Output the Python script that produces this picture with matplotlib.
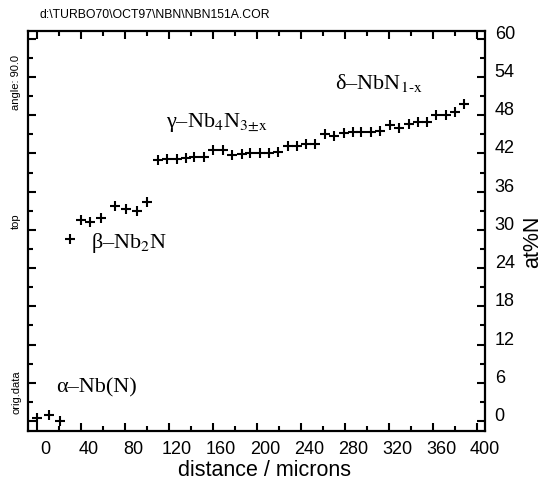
import matplotlib
matplotlib.use('Agg')
import matplotlib.pyplot as plt
from matplotlib.transforms import ScaledTranslation
from matplotlib.ticker import MultipleLocator

plt.rcParams['font.family'] = ['Liberation Sans', 'DejaVu Sans']
plt.rcParams['mathtext.fontset'] = 'stix'

# datos (distancia en micras, at%N)
alpha_x = [0, 11, 21]
alpha_y = [0.5, 1.0, 0.0]

beta_x = [30, 40, 48, 58, 71, 81, 91, 100]
beta_y = [28.5, 31.5, 31.2, 31.8, 33.8, 33.3, 32.9, 34.4]

gd_x = [110, 118, 127, 135, 143, 152, 160, 169, 177, 186, 194, 203,
        211, 219, 228, 236, 245, 253, 262, 270, 279, 287, 295, 304,
        312, 321, 329, 338, 346, 355, 363, 372, 380, 388]
gd_y = [40.9, 41.1, 41.1, 41.3, 41.4, 41.4, 42.5, 42.5, 41.8, 41.9, 42.0, 42.0,
        42.0, 42.3, 43.1, 43.1, 43.5, 43.5, 45.1, 44.7, 45.2, 45.4, 45.4, 45.4,
        45.5, 46.5, 46.0, 46.6, 46.9, 47.0, 48.0, 48.0, 48.5, 49.8]

x_ticks = [0, 40, 80, 120, 160, 200, 240, 280, 320, 360, 400]
y_ticks = [0, 6, 12, 18, 24, 30, 36, 42, 48, 54, 60]

serif = ['Liberation Serif', 'DejaVu Serif']

fig = plt.figure(figsize=(5.44, 4.87), dpi=100)
ax = fig.add_axes([28/544, 1 - 431/487, 457/544, 400/487])

xs = alpha_x + beta_x + gd_x
ys = alpha_y + beta_y + gd_y
ax.plot(xs, ys, linestyle='none', marker='+', color='black', ms=7, mew=1.5)

ax.set_xlim(-8.2, 407.3)
ax.set_ylim(-1.57, 61.22)
ax.set_xticks(x_ticks)
ax.set_yticks(y_ticks)
ax.xaxis.set_minor_locator(MultipleLocator(20))
ax.yaxis.set_minor_locator(MultipleLocator(3))
ax.tick_params(which='both', direction='in', top=True, bottom=True, left=True, right=True,
               labelleft=False, labelright=True, width=1.5, colors='black')
ax.tick_params(which='major', length=6, labelsize=13, pad=7)
ax.tick_params(which='minor', length=3.3)
for s in ax.spines.values():
    s.set_linewidth(1.6)

ax.set_xlabel('distance / microns', fontsize=15.5)
ax.xaxis.set_label_coords(0.5175, -0.072)
ax.yaxis.set_label_position('right')
ax.set_ylabel('at%N', fontsize=15.5, rotation=90)
ax.yaxis.set_label_coords(1.081, 0.4725)

# etiquetas de fases
ax.text(17.3, 4.4, 'α–Nb(N)', fontsize=16, family=serif, va='baseline')
ax.text(49, 27.2, 'β–Nb$_2$N', fontsize=16, family=serif, va='baseline')
ax.text(117.7, 46.2, 'γ–Nb$_4$N$_{\\text{3±x}}$', fontsize=16, family=serif, va='baseline')
ax.text(271, 52.1, 'δ–NbN$_{\\text{1-x}}$', fontsize=16, family=serif, va='baseline')

fig.text(39/544, 1 - 15/487, 'd:\\TURBO70\\OCT97\\NBN\\NBN151A.COR', fontsize=8.8,
         ha='left', va='center')
fig.text(16/544, 1 - 83/487, 'angle: 90.0', fontsize=8, rotation=90, ha='center', va='center')
fig.text(16/544, 1 - 221/487, 'top', fontsize=8, rotation=90, ha='center', va='center')
fig.text(16/544, 1 - 392/487, 'orig.data', fontsize=8, rotation=90, ha='center', va='center')

# las etiquetas del original van algo desplazadas respecto a las marcas
fig.canvas.draw()
dx = ScaledTranslation(8/100, 0, fig.dpi_scale_trans)
dy = ScaledTranslation(0, 6.5/100, fig.dpi_scale_trans)
for lab in ax.xaxis.get_ticklabels():
    lab.set_transform(lab.get_transform() + dx)
for lab in ax.yaxis.get_ticklabels():
    lab.set_transform(lab.get_transform() + dy)

fig.savefig('out.png', dpi=100)
